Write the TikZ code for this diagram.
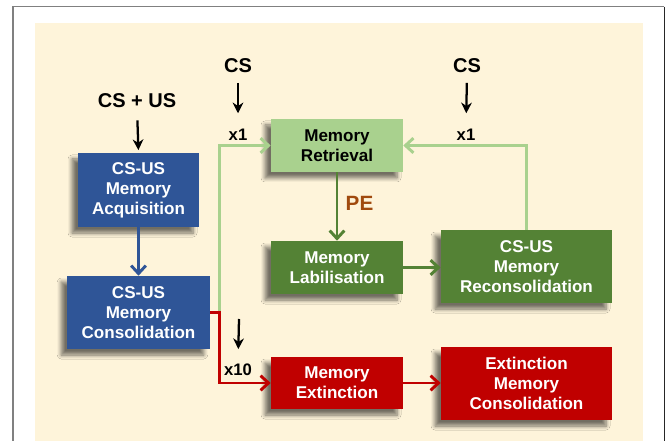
\documentclass[tikz,border=0pt]{standalone}
\usepackage{fontspec}
\setmainfont{Liberation Sans}
\usepackage{tikz}
\usetikzlibrary{arrows.meta,shadows.blur}

\definecolor{memblue}{RGB}{47,85,151}
\definecolor{retrgreen}{RGB}{169,209,142}
\definecolor{labgreen}{RGB}{84,130,53}
\definecolor{extred}{RGB}{192,0,0}
\definecolor{pebrown}{RGB}{160,74,14}
\definecolor{cream}{RGB}{254,244,218}

\tikzset{
  memblock/.style={rectangle, align=center, inner sep=1pt,
    font=\fontsize{12.8}{15}\selectfont\bfseries,
    blur shadow={shadow xshift=-4.5pt, shadow yshift=-4.5pt, shadow blur steps=6,
      shadow blur radius=3pt, shadow opacity=55}},
  acqblock/.style={memblock, fill=memblue, text=white},
  retrblock/.style={memblock, fill=retrgreen, text=black},
  labblock/.style={memblock, fill=labgreen, text=white},
  extblock/.style={memblock, fill=extred, text=white},
  cstext/.style={inner sep=0pt, anchor=base, font=\fontsize{15}{17}\selectfont\bfseries},
  repstext/.style={inner sep=0pt, anchor=base, font=\fontsize{12.5}{14}\selectfont\bfseries},
  petext/.style={inner sep=0pt, anchor=base, text=pebrown, font=\fontsize{15.5}{17}\selectfont\bfseries},
  blackarr/.style={draw=black, line width=1.7pt, -{Stealth[length=8pt,width=8pt]}},
  colarr/.style={line width=2.2pt, -{Straight Barb[length=6pt,width=11pt]}},
}

\begin{document}
\begin{tikzpicture}[x=0.75pt,y=-0.75pt]
  \useasboundingbox (0,0) rectangle (667,441);
  \fill[white] (0,0) rectangle (667,441);
  \fill[cream] (34.7,23.3) rectangle (643.3,441);
  \draw[gray, line width=1pt] (13,441) -- (13,6.7) -- (664.3,6.7);
  \draw[black!85, line width=1pt] (664.3,6.7) -- (664.3,441);

  \node[acqblock, minimum width=90.75pt, minimum height=55.5pt] (acq) at (138.5,190) {CS-US\\Memory\\Acquisition};
  \node[acqblock, minimum width=106.9pt, minimum height=54.75pt] (cons) at (138.5,312.5) {CS-US\\Memory\\Consolidation};
  \node[retrblock, minimum width=99pt, minimum height=39.75pt] (retr) at (337,145.5) {Memory\\Retrieval};
  \node[labblock, minimum width=99pt, minimum height=39.75pt] (labil) at (337,267.5) {Memory\\Labilisation};
  \node[labblock, minimum width=128.25pt, minimum height=54.75pt] (recons) at (526.5,266.5) {CS-US\\Memory\\Reconsolidation};
  \node[extblock, minimum width=99pt, minimum height=39pt] (ext) at (337,383) {Memory\\Extinction};
  \node[extblock, minimum width=128.25pt, minimum height=54.75pt] (extcons) at (526.5,383.5) {Extinction\\Memory\\Consolidation};

  \node[cstext] (csus) at (137,108) {CS + US};
  \node[cstext] (csleft) at (238,73) {CS};
  \node[cstext] (csright) at (467,73) {CS};
  \node[repstext] (onceleft) at (238,141) {x1};
  \node[repstext] (onceright) at (466,141) {x1};
  \node[repstext] (tentimes) at (238,375) {x10};
  \node[petext] (pe) at (359.5,210.7) {PE};
  \coordinate (tentop) at (239,319);

  \draw[blackarr, shorten <=9pt, shorten >=2pt] (csus.south) -- (acq.north);
  \draw[blackarr, shorten <=7pt, shorten >=12pt] (csleft.south) -- (onceleft.north);
  \draw[blackarr, shorten <=7pt, shorten >=12pt] (csright.south) -- (onceright.north);
  \draw[blackarr, shorten >=10.5pt] (tentop) -- (tentimes.north);

  \draw[colarr, memblue] (acq.south) -- (cons.north);
  \draw[colarr, retrgreen] (cons.east) -- ++(9.5,0) |- (retr.west);
  \draw[colarr, retrgreen] (recons.north) |- (retr.east);
  \draw[colarr, labgreen] (retr.south) -- (labil.north);
  \draw[colarr, labgreen] (labil.east) -- (labil.east -| recons.west);
  \draw[colarr, extred] (cons.east) -- ++(9.5,0) |- (ext.west);
  \draw[colarr, extred] (ext.east) -- (ext.east -| extcons.west);
\end{tikzpicture}
\end{document}
